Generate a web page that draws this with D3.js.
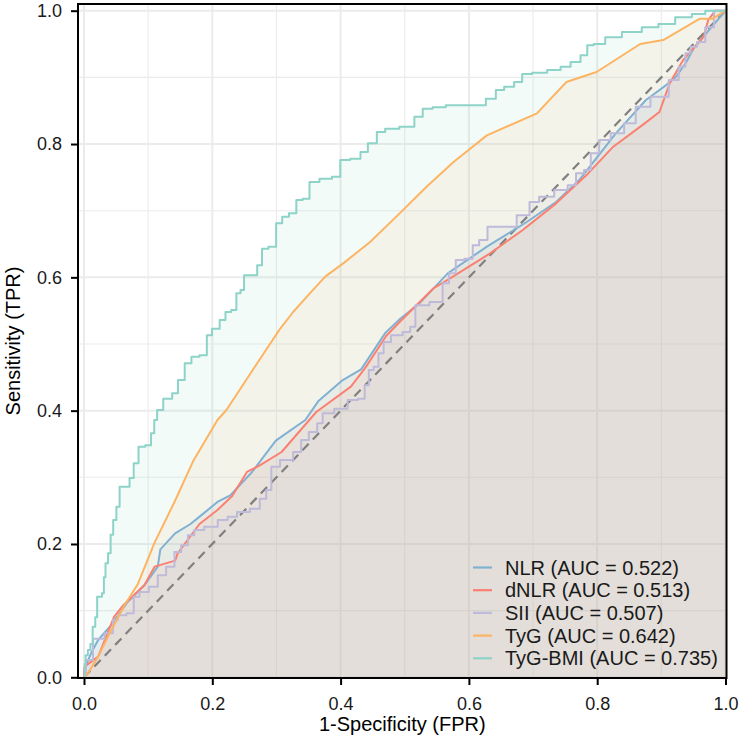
<!DOCTYPE html>
<html>
<head>
<meta charset="utf-8">
<script src="https://cdn.jsdelivr.net/npm/d3@7"></script>
<style>
  html, body { margin: 0; padding: 0; background: #ffffff; }
  svg { display: block; font-family: "Liberation Sans", Arial, sans-serif; }
</style>
</head>
<body>
<svg id="chart" width="742" height="747"></svg>
<script>
// ---- data ----
const seriesNames = ["NLR", "dNLR", "SII", "TyG", "TyG-BMI"];
const aucValues = [0.522, 0.513, 0.507, 0.642, 0.735];
const seriesColors = ["#80B1D3", "#FB8072", "#BEBADA", "#FDB462", "#8DD3C7"];
const xTicks = [0, 0.2, 0.4, 0.6, 0.8, 1.0];
const yTicks = [0, 0.2, 0.4, 0.6, 0.8, 1.0];

const nlrFPR = [0, 0.001, 0.011, 0.022, 0.042, 0.068, 0.094, 0.115, 0.119, 0.142, 0.166, 0.184, 0.208, 0.228, 0.262, 0.299, 0.345, 0.365, 0.402, 0.432, 0.470, 0.493, 0.523, 0.567, 0.628, 0.690, 0.736, 0.772, 0.829, 0.876, 0.907, 0.923, 0.939, 0.950, 0.970, 1];
const nlrTPR = [0, 0.013, 0.036, 0.056, 0.078, 0.113, 0.138, 0.166, 0.192, 0.216, 0.230, 0.244, 0.263, 0.273, 0.308, 0.355, 0.386, 0.414, 0.445, 0.462, 0.517, 0.538, 0.561, 0.606, 0.646, 0.683, 0.713, 0.746, 0.816, 0.866, 0.888, 0.901, 0.923, 0.943, 0.966, 1];

const dnlrFPR = [0, 0.001, 0.022, 0.047, 0.062, 0.083, 0.094, 0.110, 0.142, 0.146, 0.180, 0.208, 0.231, 0.254, 0.274, 0.308, 0.362, 0.416, 0.439, 0.471, 0.492, 0.544, 0.570, 0.633, 0.684, 0.736, 0.783, 0.825, 0.874, 0.897, 0.913, 0.934, 0.966, 0.973, 0.984, 1];
const dnlrTPR = [0, 0.016, 0.031, 0.091, 0.109, 0.128, 0.138, 0.166, 0.175, 0.186, 0.230, 0.251, 0.272, 0.308, 0.318, 0.338, 0.398, 0.436, 0.465, 0.512, 0.533, 0.583, 0.598, 0.636, 0.671, 0.711, 0.753, 0.796, 0.831, 0.848, 0.891, 0.926, 0.961, 0.986, 1, 1];

const siiFPR = [0, 0.006, 0.022, 0.042, 0.048, 0.058, 0.074, 0.081, 0.092, 0.110, 0.120, 0.136, 0.146, 0.157, 0.167, 0.177, 0.198, 0.219, 0.229, 0.248, 0.269, 0.279, 0.289, 0.295, 0.316, 0.336, 0.341, 0.360, 0.367, 0.377, 0.403, 0.419, 0.435, 0.440, 0.448, 0.455, 0.463, 0.471, 0.486, 0.507, 0.510, 0.523, 0.554, 0.564, 0.574, 0.585, 0.601, 0.611, 0.621, 0.637, 0.659, 0.690, 0.699, 0.720, 0.746, 0.762, 0.772, 0.787, 0.793, 0.813, 0.829, 0.855, 0.865, 0.901, 0.922, 0.932, 0.943, 0.948, 0.963, 0.974, 0.990, 1];
const siiTPR = [0, 0.026, 0.058, 0.066, 0.086, 0.093, 0.096, 0.121, 0.128, 0.136, 0.153, 0.166, 0.188, 0.198, 0.213, 0.221, 0.226, 0.236, 0.241, 0.248, 0.253, 0.268, 0.281, 0.316, 0.326, 0.338, 0.356, 0.368, 0.381, 0.396, 0.403, 0.416, 0.418, 0.438, 0.461, 0.466, 0.486, 0.503, 0.513, 0.518, 0.526, 0.558, 0.563, 0.591, 0.606, 0.626, 0.628, 0.648, 0.656, 0.676, 0.676, 0.693, 0.713, 0.721, 0.731, 0.738, 0.756, 0.761, 0.786, 0.806, 0.816, 0.831, 0.856, 0.871, 0.896, 0.916, 0.936, 0.946, 0.953, 0.975, 1, 1];

const tygFPR = [0, 0.006, 0.022, 0.040, 0.056, 0.063, 0.084, 0.110, 0.141, 0.170, 0.208, 0.222, 0.263, 0.305, 0.326, 0.352, 0.376, 0.404, 0.446, 0.492, 0.534, 0.576, 0.628, 0.706, 0.752, 0.799, 0.867, 0.903, 0.960, 0.980, 1];
const tygTPR = [0, 0.006, 0.031, 0.066, 0.095, 0.108, 0.140, 0.202, 0.263, 0.324, 0.386, 0.401, 0.461, 0.522, 0.548, 0.576, 0.601, 0.621, 0.653, 0.696, 0.736, 0.773, 0.813, 0.846, 0.893, 0.908, 0.950, 0.956, 0.988, 0.988, 1];

const tygbmiFPR = [0, 0.002, 0.003, 0.009, 0.011, 0.016, 0.019, 0.022, 0.026, 0.030, 0.032, 0.035, 0.040, 0.043, 0.048, 0.053, 0.058, 0.068, 0.074, 0.081, 0.089, 0.102, 0.107, 0.112, 0.116, 0.131, 0.144, 0.149, 0.165, 0.170, 0.190, 0.193, 0.206, 0.217, 0.224, 0.235, 0.240, 0.248, 0.251, 0.266, 0.274, 0.281, 0.294, 0.305, 0.313, 0.326, 0.336, 0.346, 0.357, 0.377, 0.396, 0.403, 0.427, 0.435, 0.450, 0.463, 0.476, 0.507, 0.523, 0.533, 0.554, 0.574, 0.616, 0.637, 0.647, 0.663, 0.678, 0.688, 0.709, 0.735, 0.751, 0.766, 0.782, 0.787, 0.802, 0.823, 0.854, 0.885, 0.906, 0.937, 0.958, 0.979, 1];
const tygbmiTPR = [0, 0.020, 0.033, 0.041, 0.050, 0.076, 0.090, 0.121, 0.121, 0.126, 0.150, 0.171, 0.186, 0.214, 0.236, 0.256, 0.286, 0.286, 0.299, 0.321, 0.346, 0.348, 0.366, 0.386, 0.401, 0.418, 0.426, 0.446, 0.471, 0.481, 0.483, 0.513, 0.523, 0.536, 0.548, 0.551, 0.576, 0.581, 0.603, 0.603, 0.618, 0.643, 0.646, 0.681, 0.691, 0.696, 0.716, 0.718, 0.743, 0.748, 0.751, 0.776, 0.778, 0.788, 0.801, 0.818, 0.823, 0.826, 0.841, 0.853, 0.855, 0.858, 0.858, 0.868, 0.881, 0.886, 0.893, 0.905, 0.907, 0.911, 0.916, 0.923, 0.933, 0.948, 0.950, 0.960, 0.968, 0.975, 0.980, 0.990, 0.995, 1, 1];

const fprList = [nlrFPR, dnlrFPR, siiFPR, tygFPR, tygbmiFPR];
const tprList = [nlrTPR, dnlrTPR, siiTPR, tygTPR, tygbmiTPR];
const curveTypes = [d3.curveLinear, d3.curveLinear, d3.curveStep, d3.curveLinear, d3.curveStep];

// ---- layout ----
const svg = d3.select("#chart");
const panel = { left: 78, right: 726.5, top: 4, bottom: 678 };
const x = d3.scaleLinear().domain([0, 1]).range([84, 725.5]);
const y = d3.scaleLinear().domain([0, 1]).range([677.3, 10.7]);

const series = seriesNames.map((name, i) => ({
  name, auc: aucValues[i], color: seriesColors[i], curve: curveTypes[i],
  pts: fprList[i].map((f, j) => ({ fpr: f, tpr: tprList[i][j] }))
}));

// panel background
svg.append("rect").attr("x", panel.left).attr("y", panel.top)
  .attr("width", panel.right - panel.left).attr("height", panel.bottom - panel.top)
  .attr("fill", "#ffffff");

// grid
const grid = svg.append("g");
const gridVals = d3.range(0, 11).map(d => d / 10);
gridVals.forEach((v, i) => {
  const major = i % 2 === 0;
  grid.append("line").attr("x1", x(v)).attr("x2", x(v))
    .attr("y1", panel.top).attr("y2", panel.bottom)
    .attr("stroke", "#ebebeb").attr("stroke-width", major ? 2 : 1.1);
  grid.append("line").attr("y1", y(v)).attr("y2", y(v))
    .attr("x1", panel.left).attr("x2", panel.right)
    .attr("stroke", "#ebebeb").attr("stroke-width", major ? 2 : 1.1);
});

// fills
series.forEach(s => {
  const area = d3.area().x(d => x(d.fpr)).y0(y(0)).y1(d => y(d.tpr)).curve(s.curve);
  svg.append("path").datum(s.pts).attr("d", area)
    .attr("fill", s.color).attr("fill-opacity", 0.1);
});

// diagonal
svg.append("line").attr("x1", x(0)).attr("y1", y(0)).attr("x2", x(1)).attr("y2", y(1))
  .attr("stroke", "#808080").attr("stroke-width", 2.2).attr("stroke-dasharray", "9,6");

// lines
series.forEach(s => {
  const line = d3.line().x(d => x(d.fpr)).y(d => y(d.tpr)).curve(s.curve);
  svg.append("path").datum(s.pts).attr("d", line)
    .attr("fill", "none").attr("stroke", s.color).attr("stroke-width", 2)
    .attr("stroke-linejoin", "round");
});

// border
svg.append("rect").attr("x", panel.left).attr("y", panel.top)
  .attr("width", panel.right - panel.left).attr("height", panel.bottom - panel.top)
  .attr("fill", "none").attr("stroke", "#000").attr("stroke-width", 2);

// axes
const fmt = d3.format(".1f");
const xAxis = svg.append("g").attr("transform", `translate(0,${panel.bottom})`)
  .call(d3.axisBottom(x).tickValues(xTicks).tickFormat(fmt).tickSize(7).tickPadding(12));
const yAxis = svg.append("g").attr("transform", `translate(${panel.left},0)`)
  .call(d3.axisLeft(y).tickValues(yTicks).tickFormat(fmt).tickSize(7).tickPadding(9));
[xAxis, yAxis].forEach(g => {
  g.select(".domain").remove();
  g.selectAll(".tick line").attr("stroke", "#000").attr("stroke-width", 2);
  g.selectAll(".tick text").attr("fill", "#1a1a1a")
    .style("font-size", "18px").style("font-family", "Liberation Sans, Arial, sans-serif");
});

// axis titles
svg.append("text").attr("x", (panel.left + panel.right) / 2).attr("y", 731)
  .attr("text-anchor", "middle").attr("fill", "#000")
  .style("font-size", "20px").text("1-Specificity (FPR)");
svg.append("text")
  .attr("transform", `translate(20,${(panel.top + panel.bottom) / 2}) rotate(-90)`)
  .attr("text-anchor", "middle").attr("fill", "#000")
  .style("font-size", "20px").text("Sensitivity (TPR)");

// legend
const legend = svg.append("g");
series.forEach((s, i) => {
  const cy = 567.5 + i * 22.7;
  legend.append("line").attr("x1", 473).attr("x2", 492).attr("y1", cy).attr("y2", cy)
    .attr("stroke", s.color).attr("stroke-width", 2.2);
  legend.append("text").attr("x", 505).attr("y", cy).attr("dy", "0.35em")
    .attr("fill", "#1a1a1a").style("font-size", "20px")
    .text(`${s.name} (AUC = ${s.auc.toFixed(3)})`);
});
</script>
</body>
</html>
